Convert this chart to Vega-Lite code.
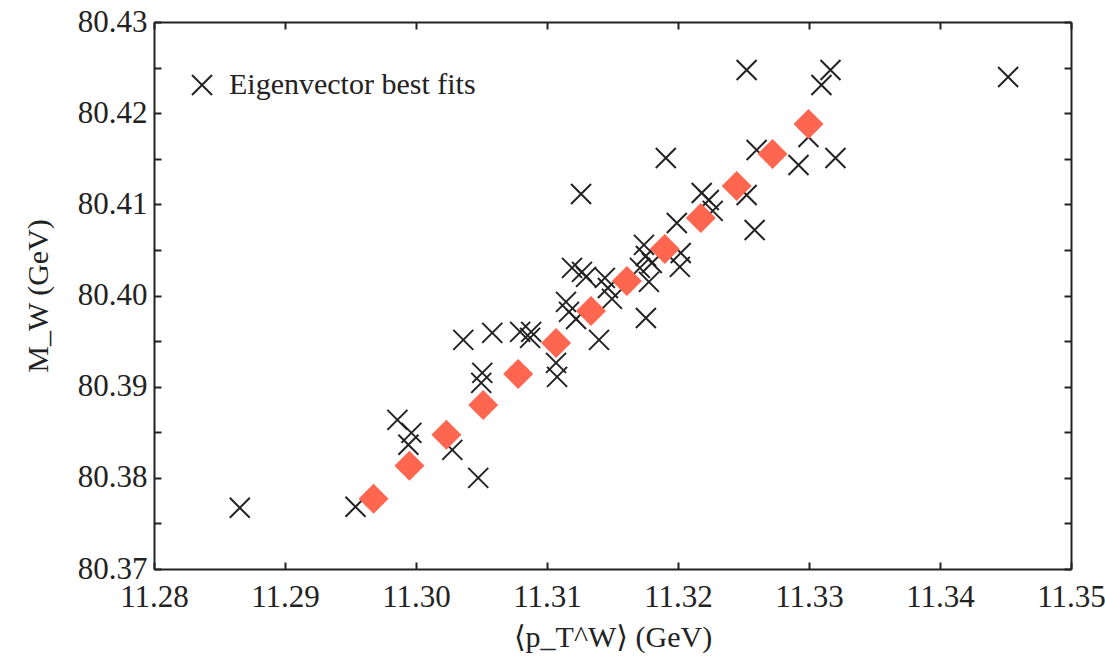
{
  "$schema": "https://vega.github.io/schema/vega-lite/v6.json",
  "width": 917,
  "height": 547,
  "autosize": {"type": "none"},
  "padding": {"left": 154, "top": 22, "right": 34, "bottom": 93},
  "background": "white",
  "config": {
    "view": {"stroke": null},
    "font": "Liberation Serif, Times New Roman, DejaVu Serif, serif",
    "axis": {
      "grid": false,
      "domainColor": "#222",
      "domainWidth": 2,
      "tickColor": "#222",
      "tickWidth": 2,
      "tickSize": -7,
      "labelFlush": false,
      "labelFont": "Liberation Serif, Times New Roman, DejaVu Serif, serif",
      "labelFontSize": 31,
      "labelColor": "#222",
      "titleFont": "Liberation Serif, Times New Roman, DejaVu Serif, serif",
      "titleFontSize": 30,
      "titleFontWeight": "normal",
      "titleColor": "#222"
    }
  },
  "datasets": {
    "fits": [
      {"pt": 11.28655, "mw": 80.37671, "series": "Eigenvector best fits"},
      {"pt": 11.29538, "mw": 80.37682, "series": "Eigenvector best fits"},
      {"pt": 11.29858, "mw": 80.38636, "series": "Eigenvector best fits"},
      {"pt": 11.29965, "mw": 80.38493, "series": "Eigenvector best fits"},
      {"pt": 11.29942, "mw": 80.38362, "series": "Eigenvector best fits"},
      {"pt": 11.30277, "mw": 80.38307, "series": "Eigenvector best fits"},
      {"pt": 11.30475, "mw": 80.38000, "series": "Eigenvector best fits"},
      {"pt": 11.30361, "mw": 80.39513, "series": "Eigenvector best fits"},
      {"pt": 11.30506, "mw": 80.39151, "series": "Eigenvector best fits"},
      {"pt": 11.30498, "mw": 80.39042, "series": "Eigenvector best fits"},
      {"pt": 11.30582, "mw": 80.39590, "series": "Eigenvector best fits"},
      {"pt": 11.30795, "mw": 80.39601, "series": "Eigenvector best fits"},
      {"pt": 11.30879, "mw": 80.39601, "series": "Eigenvector best fits"},
      {"pt": 11.30871, "mw": 80.39535, "series": "Eigenvector best fits"},
      {"pt": 11.31069, "mw": 80.39261, "series": "Eigenvector best fits"},
      {"pt": 11.31077, "mw": 80.39107, "series": "Eigenvector best fits"},
      {"pt": 11.31145, "mw": 80.39930, "series": "Eigenvector best fits"},
      {"pt": 11.31168, "mw": 80.39820, "series": "Eigenvector best fits"},
      {"pt": 11.31222, "mw": 80.39743, "series": "Eigenvector best fits"},
      {"pt": 11.31191, "mw": 80.40303, "series": "Eigenvector best fits"},
      {"pt": 11.31267, "mw": 80.40259, "series": "Eigenvector best fits"},
      {"pt": 11.31298, "mw": 80.40204, "series": "Eigenvector best fits"},
      {"pt": 11.31260, "mw": 80.41114, "series": "Eigenvector best fits"},
      {"pt": 11.31397, "mw": 80.39513, "series": "Eigenvector best fits"},
      {"pt": 11.31442, "mw": 80.40193, "series": "Eigenvector best fits"},
      {"pt": 11.31465, "mw": 80.40083, "series": "Eigenvector best fits"},
      {"pt": 11.31496, "mw": 80.39963, "series": "Eigenvector best fits"},
      {"pt": 11.31755, "mw": 80.39754, "series": "Eigenvector best fits"},
      {"pt": 11.31740, "mw": 80.40555, "series": "Eigenvector best fits"},
      {"pt": 11.31755, "mw": 80.40434, "series": "Eigenvector best fits"},
      {"pt": 11.31800, "mw": 80.40357, "series": "Eigenvector best fits"},
      {"pt": 11.31709, "mw": 80.40303, "series": "Eigenvector best fits"},
      {"pt": 11.31778, "mw": 80.40149, "series": "Eigenvector best fits"},
      {"pt": 11.32021, "mw": 80.40467, "series": "Eigenvector best fits"},
      {"pt": 11.32014, "mw": 80.40314, "series": "Eigenvector best fits"},
      {"pt": 11.31991, "mw": 80.40796, "series": "Eigenvector best fits"},
      {"pt": 11.31907, "mw": 80.41509, "series": "Eigenvector best fits"},
      {"pt": 11.32181, "mw": 80.41125, "series": "Eigenvector best fits"},
      {"pt": 11.32235, "mw": 80.41048, "series": "Eigenvector best fits"},
      {"pt": 11.32265, "mw": 80.40928, "series": "Eigenvector best fits"},
      {"pt": 11.32524, "mw": 80.41103, "series": "Eigenvector best fits"},
      {"pt": 11.32585, "mw": 80.40719, "series": "Eigenvector best fits"},
      {"pt": 11.32600, "mw": 80.41596, "series": "Eigenvector best fits"},
      {"pt": 11.32524, "mw": 80.42474, "series": "Eigenvector best fits"},
      {"pt": 11.33164, "mw": 80.42474, "series": "Eigenvector best fits"},
      {"pt": 11.33095, "mw": 80.42309, "series": "Eigenvector best fits"},
      {"pt": 11.32996, "mw": 80.41739, "series": "Eigenvector best fits"},
      {"pt": 11.32920, "mw": 80.41432, "series": "Eigenvector best fits"},
      {"pt": 11.33202, "mw": 80.41509, "series": "Eigenvector best fits"},
      {"pt": 11.34520, "mw": 80.42397, "series": "Eigenvector best fits"}
    ],
    "line": [
      {"pt": 11.29676, "mw": 80.37770},
      {"pt": 11.29950, "mw": 80.38132},
      {"pt": 11.30232, "mw": 80.38472},
      {"pt": 11.30513, "mw": 80.38800},
      {"pt": 11.30780, "mw": 80.39140},
      {"pt": 11.31069, "mw": 80.39480},
      {"pt": 11.31336, "mw": 80.39831},
      {"pt": 11.31610, "mw": 80.40160},
      {"pt": 11.31899, "mw": 80.40511},
      {"pt": 11.32174, "mw": 80.40851},
      {"pt": 11.32448, "mw": 80.41202},
      {"pt": 11.32722, "mw": 80.41553},
      {"pt": 11.32996, "mw": 80.41882}
    ]
  },
  "resolve": {"axis": {"x": "independent", "y": "independent"}},
  "layer": [
    {
      "data": {"name": "fits"},
      "mark": {"type": "point", "filled": false, "color": "#222", "strokeWidth": 2, "size": 400, "opacity": 1},
      "encoding": {
        "x": {
          "field": "pt", "type": "quantitative",
          "scale": {"domain": [11.28, 11.35], "nice": false, "zero": false},
          "axis": {
            "orient": "bottom",
            "values": [11.28, 11.29, 11.30, 11.31, 11.32, 11.33, 11.34, 11.35],
            "format": ".2f",
            "labelPadding": 20,
            "title": "⟨p_T^W⟩ (GeV)",
            "titlePadding": 10
          }
        },
        "y": {
          "field": "mw", "type": "quantitative",
          "scale": {"domain": [80.37, 80.43], "nice": false, "zero": false},
          "axis": {
            "orient": "left",
            "values": [80.37, 80.375, 80.38, 80.385, 80.39, 80.395, 80.40, 80.405, 80.41, 80.415, 80.42, 80.425, 80.43],
            "labelExpr": "abs(round(datum.value*200)) % 2 == 0 ? format(datum.value, '.2f') : ''",
            "labelPadding": 14,
            "title": "M_W (GeV)",
            "titlePadding": 24
          }
        },
        "shape": {
          "field": "series", "type": "nominal",
          "scale": {"range": ["M-1,-1L1,1M-1,1L1,-1"]},
          "legend": {
            "title": null,
            "orient": "none",
            "legendX": 33,
            "legendY": 48,
            "padding": 0,
            "symbolSize": 400,
            "symbolStrokeColor": "#222",
            "symbolStrokeWidth": 2,
            "symbolFillColor": "transparent",
            "labelFont": "Liberation Serif, Times New Roman, DejaVu Serif, serif",
            "labelFontSize": 30,
            "labelColor": "#222",
            "labelOffset": 12,
            "labelLimit": 500
          }
        }
      }
    },
    {
      "data": {"name": "line"},
      "mark": {"type": "point", "shape": "diamond", "filled": true, "color": "#ff6650", "size": 900, "opacity": 1},
      "encoding": {
        "x": {
          "field": "pt", "type": "quantitative",
          "axis": {
            "orient": "top",
            "values": [11.28, 11.29, 11.30, 11.31, 11.32, 11.33, 11.34, 11.35],
            "labels": false,
            "title": null
          }
        },
        "y": {
          "field": "mw", "type": "quantitative",
          "axis": {
            "orient": "right",
            "values": [80.37, 80.375, 80.38, 80.385, 80.39, 80.395, 80.40, 80.405, 80.41, 80.415, 80.42, 80.425, 80.43],
            "labels": false,
            "title": null
          }
        }
      }
    }
  ]
}
